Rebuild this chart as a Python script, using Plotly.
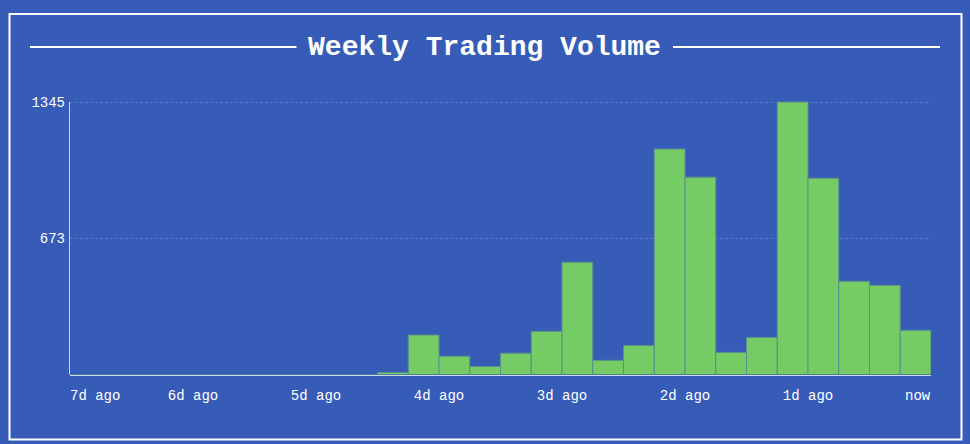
import plotly.graph_objects as go

BG = '#365cb8'
GREEN = '#76cc64'
WHITE = '#ffffff'
AXIS = 'rgba(255,255,255,0.75)'
FONT = 'Liberation Mono'
W = 970
H = 444

volume = [0, 0, 0, 0, 0, 0, 0, 0, 0, 0,
          10, 195, 90, 40, 105, 213, 554, 70, 143,
          1113, 974, 109, 183, 1345, 969, 460, 440, 218]
# one bar per 6 hours, so 4 bars to a day
bar_pos = [i + 0.5 for i in range(len(volume))]

day_ticks = [4, 8, 12, 16, 20, 24]
day_labels = ['6d ago', '5d ago', '4d ago', '3d ago', '2d ago', '1d ago']
y_ticks = [673, 1345]


def px_x(v):
    return v / W


def px_y(v):
    return 1 - v / H


def hline(x0, x1, y):
    return dict(type='line', xref='paper', yref='paper',
                x0=px_x(x0), x1=px_x(x1), y0=px_y(y), y1=px_y(y),
                line=dict(color=WHITE, width=2))


trace = go.Bar(x=bar_pos, y=volume, width=1,
               marker=dict(color=GREEN, line=dict(color='#5a8f8c', width=1)))

layout = go.Layout(
    width=W, height=H,
    autosize=False,
    margin=dict(l=0, r=0, t=0, b=0, autoexpand=False),
    paper_bgcolor=BG,
    plot_bgcolor=BG,
    showlegend=False,
    font=dict(family=FONT, color=WHITE, size=14),
    title=dict(text='<b>Weekly Trading Volume</b>', x=484.5 / W, xanchor='center',
               y=px_y(45), yanchor='middle',
               font=dict(family=FONT, size=28, color=WHITE)),
    xaxis=dict(domain=[px_x(70), px_x(931)], range=[0, 28],
               tickvals=day_ticks, ticktext=day_labels, ticks='',
               ticklabelstandoff=8, showgrid=False, zeroline=False,
               showline=True, linecolor=AXIS, linewidth=1,
               tickfont=dict(family=FONT, size=14, color=WHITE)),
    # top of the range sits above 1345, or plotly drops that gridline at the edge
    yaxis=dict(domain=[px_y(374.5), px_y(100)], range=[0, 1355],
               tickvals=y_ticks, ticktext=[str(v) for v in y_ticks], ticks='',
               ticklabelstandoff=4,
               showgrid=True, gridcolor='rgba(255,255,255,0.18)', griddash='3px,2px',
               gridwidth=1, zeroline=False, showline=False,
               tickfont=dict(family=FONT, size=14, color=WHITE)),
    shapes=[
        dict(type='rect', xref='paper', yref='paper',
             x0=px_x(9.5), x1=px_x(961.5), y0=px_y(14), y1=px_y(439.5),
             line=dict(color=WHITE, width=2)),
        hline(30, 296.5, 47),
        hline(673, 940, 47),
        dict(type='line', xref='paper', yref='paper',
             x0=px_x(69.5), x1=px_x(69.5), y0=px_y(374.5), y1=px_y(102),
             line=dict(color=AXIS, width=1)),
    ],
    annotations=[
        dict(text='7d ago', xref='x', yref='paper', x=0, y=px_y(396),
             xanchor='left', yanchor='middle', showarrow=False, xshift=-2),
        dict(text='now', xref='x', yref='paper', x=28, y=px_y(396),
             xanchor='right', yanchor='middle', showarrow=False, xshift=2),
    ],
)

fig = go.Figure(data=[trace], layout=layout)
fig.write_html('out.html', post_script="document.body.style.margin='0';document.body.style.background='%s';" % BG,
               config=dict(displayModeBar=False))
